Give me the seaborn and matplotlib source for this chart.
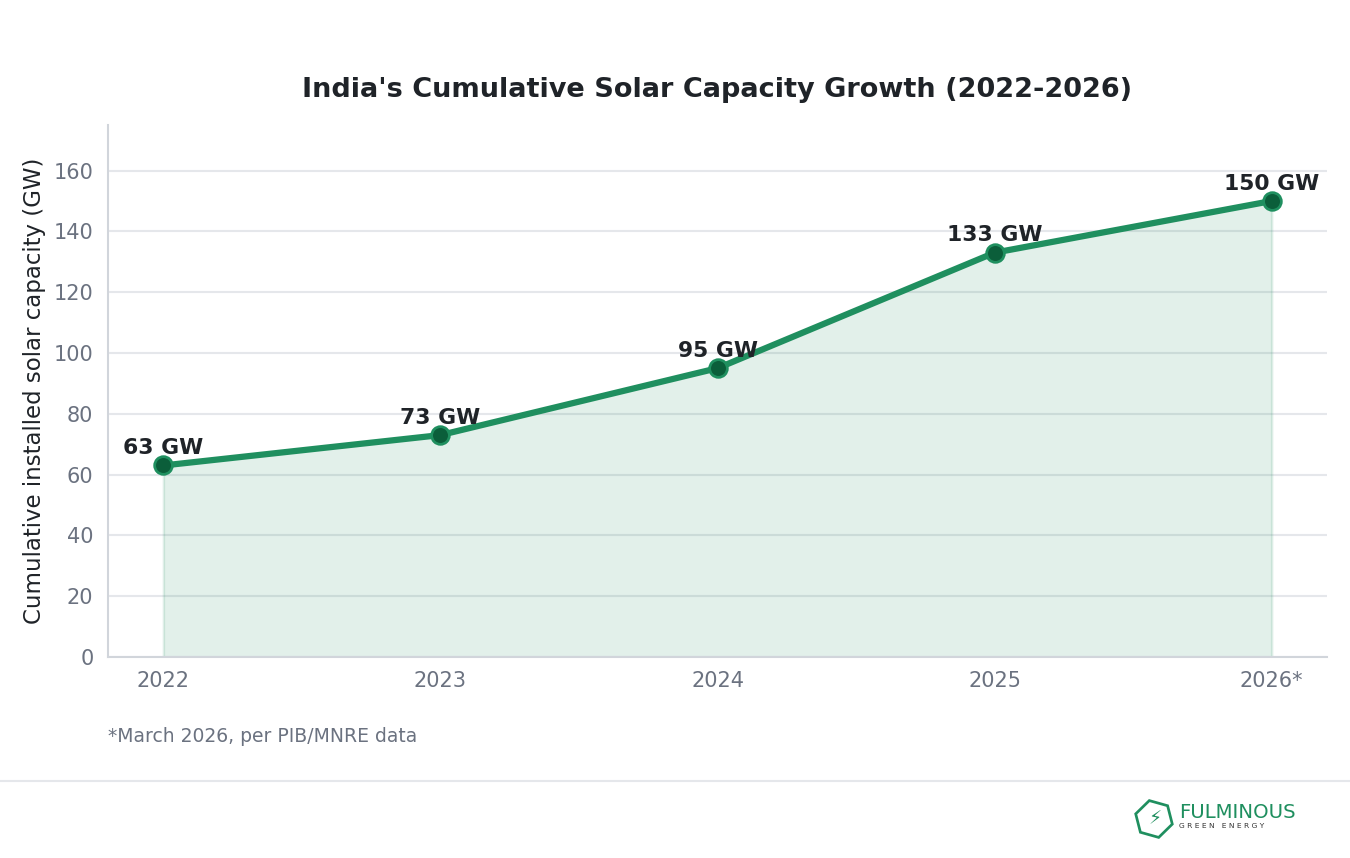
import matplotlib
matplotlib.use("Agg")
import matplotlib.pyplot as plt
import seaborn as sns
import pandas as pd
from matplotlib.patches import RegularPolygon
from matplotlib.lines import Line2D

years = ["2022", "2023", "2024", "2025", "2026*"]
capacity_gw = [63, 73, 95, 133, 150]
labels = ["63 GW", "73 GW", "95 GW", "133 GW", "150 GW"]

sns.set_style("white")
plt.rcParams['font.family'] = ['DejaVu Sans']

GREEN = "#1f8f5f"
DARK = "#0b5e3a"
GRAY = "#6b7280"
TXT = "#1f2328"

df = pd.DataFrame({"x": range(len(years)), "cap": capacity_gw})

fig = plt.figure(figsize=(9, 5.72), dpi=150)
ax = fig.add_axes([0.08, 0.2343, 0.903, 0.62])

ax.fill_between(df["x"], df["cap"], 0, color=GREEN, alpha=0.13, linewidth=1.2, edgecolor=(0.12, 0.56, 0.37, 0.15))
sns.lineplot(data=df, x="x", y="cap", ax=ax, color=GREEN, linewidth=3.0, marker="o",
             markersize=8.5, markerfacecolor=DARK, markeredgecolor=GREEN, markeredgewidth=1.3, zorder=3)

for xi, yi, lab in zip(df["x"], df["cap"], labels):
    ax.annotate(lab, (xi, yi), xytext=(0, 3.6), textcoords="offset points", ha="center", va="bottom",
                fontsize=10.5, fontweight="bold", color=TXT)

ax.set_xlim(-0.2, 4.2)
ax.set_ylim(0, 175)
ax.set_xticks(range(len(years)))
ax.set_xticklabels(years)
ax.set_yticks(range(0, 161, 20))
ax.tick_params(axis="both", colors="#9ca3af", labelcolor=GRAY, labelsize=10, length=3.5, width=1)
ax.tick_params(axis="x", pad=3)
ax.grid(axis="y", color="#e5e7eb", linewidth=1)
ax.set_axisbelow(True)
for s in ["top", "right"]:
    ax.spines[s].set_visible(False)
for s in ["left", "bottom"]:
    ax.spines[s].set_color("#d1d5db")
    ax.spines[s].set_linewidth(1)
ax.set_xlabel("")
ax.set_ylabel("Cumulative installed solar capacity (GW)", fontsize=11, color=TXT, labelpad=3.6)
ax.set_title("India's Cumulative Solar Capacity Growth (2022-2026)", fontsize=13, fontweight="bold",
             color=TXT, pad=13.5)

fig.text(0.08, 1 - 736 / 858, "*March 2026, per PIB/MNRE data", fontsize=9, color=GRAY, ha="left", va="center")

fig.add_artist(Line2D([0, 1], [1 - 781 / 858] * 2, color="#e5e7eb", linewidth=1, transform=fig.transFigure))

# logo approximation
hexa = RegularPolygon((1154 / 150, (858 - 819) / 150), numVertices=6, radius=19 / 150, orientation=0.25,
                      transform=fig.dpi_scale_trans, fill=False, edgecolor=GREEN, linewidth=1.3)
fig.add_artist(hexa)
fig.text(1155 / 1350, 1 - 819 / 858, "⚡", fontsize=9, color=GREEN, ha="center", va="center")
fig.text(1179 / 1350, 1 - 812 / 858, "FULMINOUS", fontsize=9.5, color=GREEN, ha="left", va="center")
fig.text(1179 / 1350, 1 - 826 / 858, "G R E E N   E N E R G Y", fontsize=3.6, color="#333333",
         ha="left", va="center")

fig.savefig("out.png", dpi=150, facecolor="white")
